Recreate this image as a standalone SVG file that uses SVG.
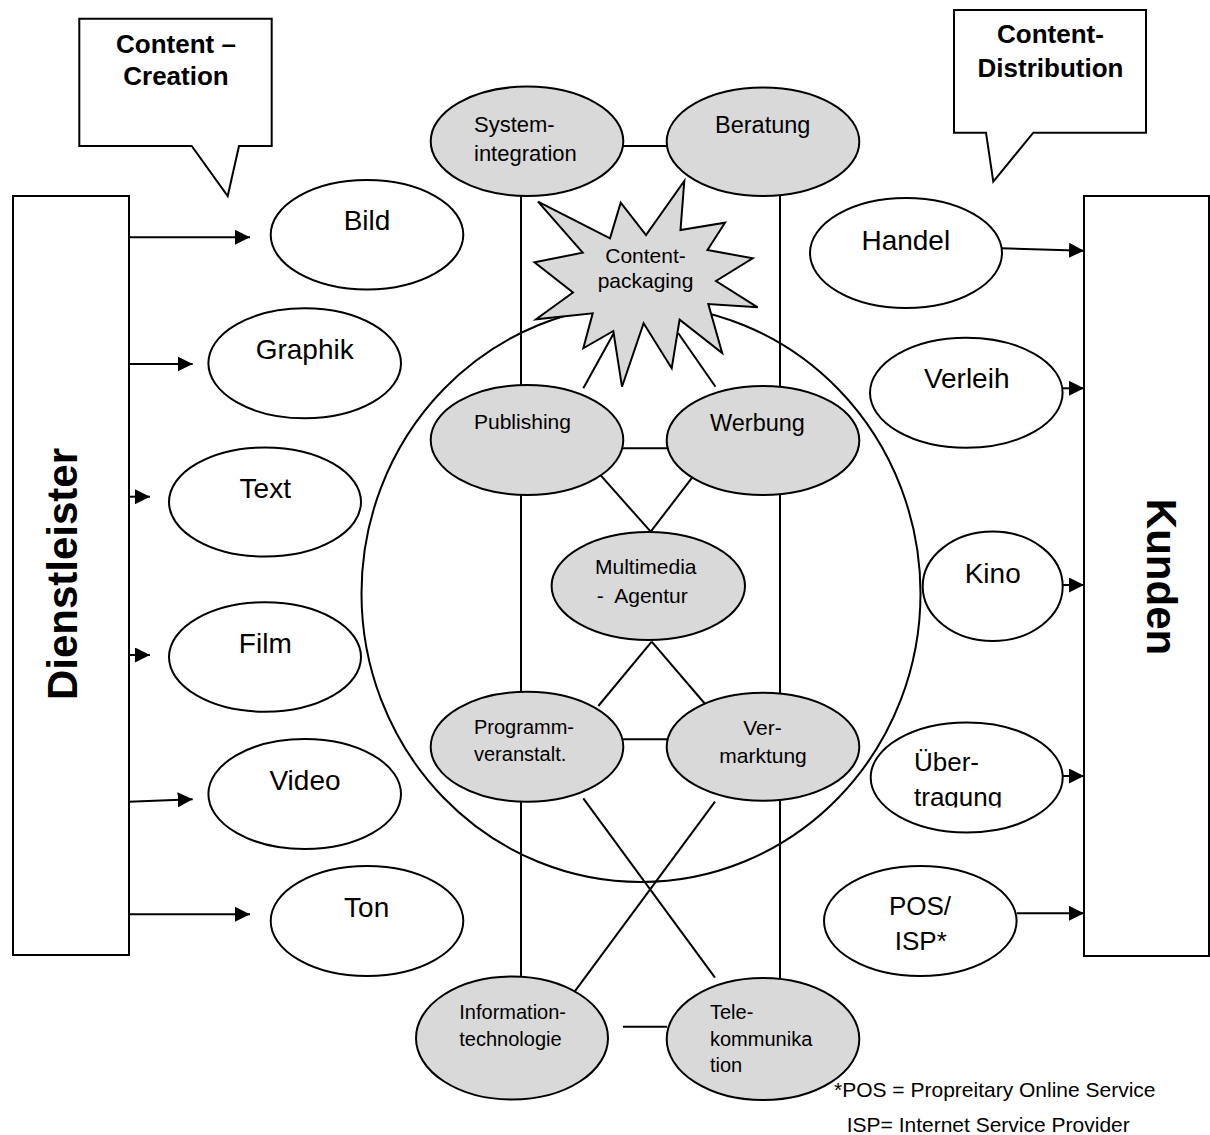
<svg xmlns="http://www.w3.org/2000/svg" width="1210" height="1135" viewBox="0 0 1210 1135">
<style>
text{font-family:"Liberation Sans",Arial,sans-serif;fill:#000}
.sh{stroke:#000;stroke-width:2;fill:#fff}
.g{stroke:#000;stroke-width:2;fill:#d9d9d9}
.ln{stroke:#000;stroke-width:2;fill:none}
.ar{stroke:#000;stroke-width:2;fill:none;marker-end:url(#ah)}
.b{font-weight:bold}
.w{font-size:28px}
.s{font-size:20px}
</style>
<defs>
<marker id="ah" markerWidth="15" markerHeight="15" refX="15" refY="7.5" orient="auto" markerUnits="userSpaceOnUse"><path d="M0,0 L15,7.5 L0,15 Z" fill="#000"/></marker>
<clipPath id="clipU"><rect x="860" y="740" width="200" height="67.5"/></clipPath>
</defs>
<rect width="1210" height="1135" fill="#fff"/>

<ellipse id="market" class="ln" cx="641" cy="593.5" rx="279.5" ry="288.5"/>

<g id="connectors">
<line class="ar" x1="129" y1="237.3" x2="250" y2="237.3"/>
<line class="ar" x1="129" y1="364" x2="192.7" y2="364"/>
<line class="ar" x1="129" y1="496.7" x2="150" y2="496.7"/>
<line class="ar" x1="129" y1="655" x2="150" y2="655"/>
<line class="ar" x1="129" y1="801.7" x2="192.7" y2="799.3"/>
<line class="ar" x1="129" y1="914.3" x2="250" y2="914.3"/>
<line class="ar" x1="1001.7" y1="248.3" x2="1084" y2="250.7"/>
<line class="ar" x1="1062.7" y1="388.3" x2="1084" y2="388.3"/>
<line class="ar" x1="1062.7" y1="585" x2="1084" y2="585"/>
<line class="ar" x1="1062.7" y1="776" x2="1084" y2="776"/>
<line class="ar" x1="1016.7" y1="913.3" x2="1084" y2="913.3"/>
<line class="ln" x1="623" y1="146" x2="667" y2="146"/>
<line class="ln" x1="623" y1="448.3" x2="667" y2="448.3"/>
<line class="ln" x1="623" y1="739.3" x2="667" y2="739.3"/>
<line class="ln" x1="623" y1="1026.7" x2="667" y2="1026.7"/>
<line class="ln" x1="521" y1="196" x2="521" y2="385"/>
<line class="ln" x1="521" y1="495" x2="521" y2="692"/>
<line class="ln" x1="521" y1="802" x2="521" y2="977"/>
<line class="ln" x1="780" y1="196" x2="780" y2="386"/>
<line class="ln" x1="780" y1="495" x2="780" y2="693"/>
<line class="ln" x1="780" y1="801" x2="780" y2="978"/>
<line class="ln" x1="583.3" y1="388.3" x2="613.3" y2="334"/>
<line class="ln" x1="715.5" y1="386.7" x2="678.3" y2="333.3"/>
<line class="ln" x1="598.3" y1="472.7" x2="650.7" y2="531.7"/>
<line class="ln" x1="696.7" y1="471.7" x2="650.7" y2="531.7"/>
<line class="ln" x1="651.7" y1="641.7" x2="598.3" y2="706"/>
<line class="ln" x1="651.7" y1="641.7" x2="706" y2="705"/>
<line class="ln" x1="583.3" y1="798.3" x2="715" y2="977.7"/>
<line class="ln" x1="715" y1="801.7" x2="573.3" y2="993.3"/>
</g>

<g id="dienstleister">
<rect class="sh" x="13" y="196" width="116" height="759"/>
<text class="b" font-size="42" text-anchor="middle" transform="translate(77,574) rotate(-90)">Dienstleister</text>
</g>
<g id="kunden">
<rect class="sh" x="1084" y="196" width="125" height="760"/>
<text class="b" font-size="42" text-anchor="middle" transform="translate(1147,577) rotate(90)">Kunden</text>
</g>

<g id="callout-creation">
<path class="sh" d="M79.3,18.7 H271.7 V146 H239 L227.7,196 L191.7,146 H79.3 Z"/>
<text class="b" font-size="26" text-anchor="middle" x="176" y="52.7">Content –</text>
<text class="b" font-size="26" text-anchor="middle" x="176" y="85">Creation</text>
</g>
<g id="callout-distribution">
<path class="sh" d="M954,10 H1146 V132.7 H1033.3 L993.3,181.7 L986,132.7 H954 Z"/>
<text class="b" font-size="26" text-anchor="middle" x="1050.5" y="43.3">Content-</text>
<text class="b" font-size="26" text-anchor="middle" x="1050.5" y="76.7">Distribution</text>
</g>

<g id="bild"><ellipse class="sh" cx="367" cy="234.7" rx="96.3" ry="54.7"/><text class="w" text-anchor="middle" x="367" y="230">Bild</text></g>
<g id="graphik"><ellipse class="sh" cx="304.7" cy="363.3" rx="96.3" ry="55"/><text class="w" text-anchor="middle" x="304.7" y="359.3">Graphik</text></g>
<g id="text"><ellipse class="sh" cx="265" cy="502" rx="96" ry="54.5"/><text class="w" text-anchor="middle" x="265.3" y="498.3">Text</text></g>
<g id="film"><ellipse class="sh" cx="265" cy="657" rx="96" ry="54.7"/><text class="w" text-anchor="middle" x="265.3" y="653.3">Film</text></g>
<g id="video"><ellipse class="sh" cx="304.7" cy="794" rx="96.3" ry="55"/><text class="w" text-anchor="middle" x="305" y="790">Video</text></g>
<g id="ton"><ellipse class="sh" cx="367" cy="921" rx="96.3" ry="55"/><text class="w" text-anchor="middle" x="366.7" y="916.7">Ton</text></g>

<g id="handel"><ellipse class="sh" cx="906" cy="253" rx="96" ry="55"/><text class="w" text-anchor="middle" x="905.8" y="250">Handel</text></g>
<g id="verleih"><ellipse class="sh" cx="966.3" cy="392.7" rx="96.3" ry="55"/><text class="w" text-anchor="middle" x="966.7" y="388.3">Verleih</text></g>
<g id="kino"><ellipse class="sh" cx="992.7" cy="586.3" rx="70" ry="54.7"/><text class="w" text-anchor="middle" x="992.7" y="582.7">Kino</text></g>
<g id="uebertragung"><ellipse class="sh" cx="966.7" cy="777.5" rx="96" ry="55"/>
<text font-size="26" x="914" y="770.7">Über-</text>
<text font-size="26" x="914" y="806" clip-path="url(#clipU)">tragung</text></g>
<g id="pos-isp"><ellipse class="sh" cx="920.3" cy="921" rx="96.3" ry="55"/>
<text font-size="26" text-anchor="middle" x="920" y="915">POS/</text>
<text font-size="26" text-anchor="middle" x="920.8" y="950">ISP*</text></g>

<g id="systemintegration"><ellipse class="g" cx="527" cy="141.3" rx="96.3" ry="54.7"/>
<text font-size="22" x="474" y="131.7">System-</text><text font-size="22" x="474" y="161">integration</text></g>
<g id="beratung"><ellipse class="g" cx="763" cy="141.7" rx="96.3" ry="54.3"/>
<text font-size="23.5" x="715" y="132.7">Beratung</text></g>

<g id="contentpackaging">
<polygon class="g" points="538,201.7 610,238.3 620.7,202.7 646,235 684.3,181 680.5,230 725,222.7 707.5,250 752.7,258.3 716,281 757.7,307.3 708.3,304 722.2,353 679.6,319.6 671.7,368.3 643.6,323.3 622,386.7 613.3,331 583.3,348.3 592.7,313.3 536,319.3 573,292.5 534.5,262.2 582.7,252.7"/>
<text font-size="21" text-anchor="middle" x="645.5" y="263.3">Content-</text>
<text font-size="21" text-anchor="middle" x="645.5" y="288.3">packaging</text>
</g>

<g id="publishing"><ellipse class="g" cx="527" cy="440" rx="96.3" ry="55"/><text font-size="21" x="474" y="429.3">Publishing</text></g>
<g id="werbung"><ellipse class="g" cx="763" cy="440.5" rx="96.3" ry="54.5"/><text font-size="23.5" x="710" y="431">Werbung</text></g>
<g id="multimedia"><ellipse class="g" cx="648.3" cy="586" rx="96.7" ry="54"/>
<text font-size="21" x="595" y="574.3">Multimedia</text>
<text font-size="21" x="596.7" y="603.3" style="white-space:pre">-  Agentur</text></g>
<g id="programmveranstalt"><ellipse class="g" cx="527" cy="746.7" rx="96.3" ry="55"/>
<text class="s" x="474" y="734">Programm-</text><text class="s" x="474" y="760.7">veranstalt.</text></g>
<g id="vermarktung"><ellipse class="g" cx="763" cy="746.7" rx="96.3" ry="54"/>
<text font-size="21" text-anchor="middle" x="762.5" y="735">Ver-</text><text font-size="21" text-anchor="middle" x="763" y="763.3">marktung</text></g>
<g id="informationstechnologie"><ellipse class="g" cx="512" cy="1038" rx="96" ry="61.5"/>
<text class="s" x="459.3" y="1019.3">Information-</text><text class="s" x="459.3" y="1045.7">technologie</text></g>
<g id="telekommunikation"><ellipse class="g" cx="763" cy="1039" rx="96.3" ry="61"/>
<text class="s" x="710" y="1019.3">Tele-</text><text class="s" x="710" y="1045.7">kommunika</text><text class="s" x="710" y="1072.3">tion</text></g>

<g id="footnote">
<text font-size="21" x="834" y="1096.7">*POS = Propreitary Online Service</text>
<text font-size="21" x="846.7" y="1131.7">ISP= Internet Service Provider</text>
</g>
</svg>
